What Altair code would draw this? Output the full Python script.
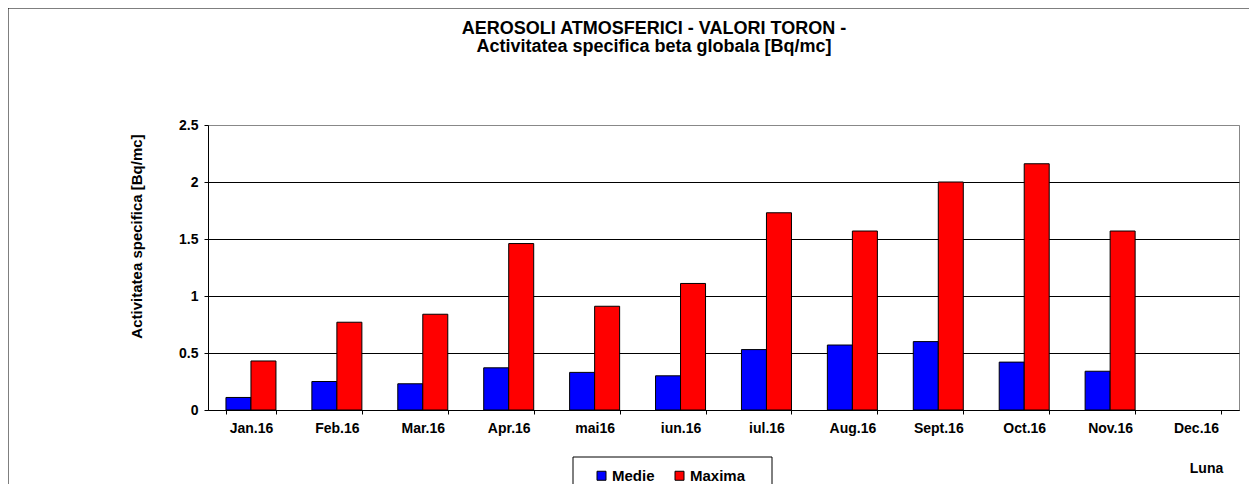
import altair as alt
import pandas as pd

months = ["Jan.16", "Feb.16", "Mar.16", "Apr.16", "mai16", "iun.16",
          "iul.16", "Aug.16", "Sept.16", "Oct.16", "Nov.16", "Dec.16"]
medie = [0.11, 0.25, 0.23, 0.37, 0.33, 0.30, 0.53, 0.57, 0.60, 0.42, 0.34, None]
maxima = [0.43, 0.77, 0.84, 1.46, 0.91, 1.11, 1.73, 1.57, 2.00, 2.16, 1.57, None]
series = ["Medie", "Maxima"]
colors = ["#0000FF", "#FF0000"]
title_lines = ["AEROSOLI ATMOSFERICI - VALORI TORON -",
               "Activitatea specifica beta globala [Bq/mc]"]
y_title = "Activitatea specifica [Bq/mc]"
x_title = "Luna"
y_ticks = [0, 0.5, 1, 1.5, 2, 2.5]

rows = []
for m, a, b in zip(months, medie, maxima):
    if a is not None:
        rows.append({"luna": m, "serie": "Medie", "val": a})
    if b is not None:
        rows.append({"luna": m, "serie": "Maxima", "val": b})
df = pd.DataFrame(rows)

FONT = "Arial, Liberation Sans, sans-serif"
W, H = 1031, 285
PAD_L, PAD_T, PAD_R, PAD_B = 200, 117, 10, 74

bars = alt.Chart(df).mark_bar(stroke="black", strokeWidth=1).encode(
    x=alt.X("luna:N", sort=months,
            scale=alt.Scale(domain=months, paddingInner=0.418, paddingOuter=0.209),
            axis=alt.Axis(title=x_title, labelAngle=0, tickBand="extent", grid=False,
                          titleX=998, titleY=58, titleAlign="center",
                          titleBaseline="middle", titleFontSize=14,
                          labelPadding=7)),
    xOffset=alt.XOffset("serie:N", sort=series, scale=alt.Scale(domain=series)),
    y=alt.Y("val:Q", scale=alt.Scale(domain=[0, 2.5], nice=False),
            axis=alt.Axis(title=y_title, values=y_ticks, format="~g", grid=True,
                          gridColor=alt.condition("datum.value >= 2.5",
                                                  alt.value("#888888"),
                                                  alt.value("#000000")),
                          titleX=-72, titleY=111, titleAlign="center",
                          titleBaseline="middle", titleFontSize=15,
                          labelPadding=6)),
    color=alt.Color("serie:N", sort=series,
                    scale=alt.Scale(domain=series, range=colors),
                    legend=alt.Legend(title=None, orient="none", legendX=386, legendY=343,
                                      direction="horizontal", symbolType="square",
                                      symbolSize=81, symbolStrokeColor="black",
                                      symbolStrokeWidth=1, symbolOpacity=1,
                                      labelFont=FONT, labelFontSize=15,
                                      labelFontWeight="bold", labelColor="black",
                                      labelOffset=3, columnPadding=17, padding=0)),
)

one = pd.DataFrame({"t": ["\n".join(title_lines)]})

title = alt.Chart(one).mark_text(
    font=FONT, fontSize=18, fontWeight="bold", align="center",
    baseline="alphabetic", lineBreak="\n", lineHeight=18, color="black"
).encode(text="t:N", x=alt.value(446), y=alt.value(-91))

# outer frame: only top and left edges fall inside the picture
frame_top = alt.Chart(one).mark_rule(color="black", strokeWidth=1).encode(
    x=alt.value(-200), x2=alt.value(W + PAD_R), y=alt.value(-117))
frame_left = alt.Chart(one).mark_rule(color="black", strokeWidth=1).encode(
    x=alt.value(-200), y=alt.value(-117), y2=alt.value(H + PAD_B))

# legend box (its bottom edge lies below the picture)
lg_top = alt.Chart(one).mark_rule(color="black", strokeWidth=1).encode(
    x=alt.value(365), x2=alt.value(564), y=alt.value(332))
lg_left = alt.Chart(one).mark_rule(color="black", strokeWidth=1).encode(
    x=alt.value(365), y=alt.value(332), y2=alt.value(H + PAD_B))
lg_right = alt.Chart(one).mark_rule(color="black", strokeWidth=1).encode(
    x=alt.value(564), y=alt.value(332), y2=alt.value(H + PAD_B))

chart = alt.layer(frame_top, frame_left, lg_top, lg_left, lg_right, bars, title).properties(
    width=W, height=H,
    autosize=alt.AutoSizeParams(type="none"),
    padding={"left": PAD_L, "top": PAD_T, "right": PAD_R, "bottom": PAD_B},
).configure_view(stroke="#888888", strokeWidth=1).configure_axis(
    labelFont=FONT, labelFontSize=14, labelFontWeight="bold", labelColor="black",
    titleFont=FONT, titleFontWeight="bold", titleColor="black",
    domainColor="black", tickColor="black", tickSize=4, domainWidth=1,
)

chart.save("out.html", embed_options={"renderer": "svg", "actions": False})
